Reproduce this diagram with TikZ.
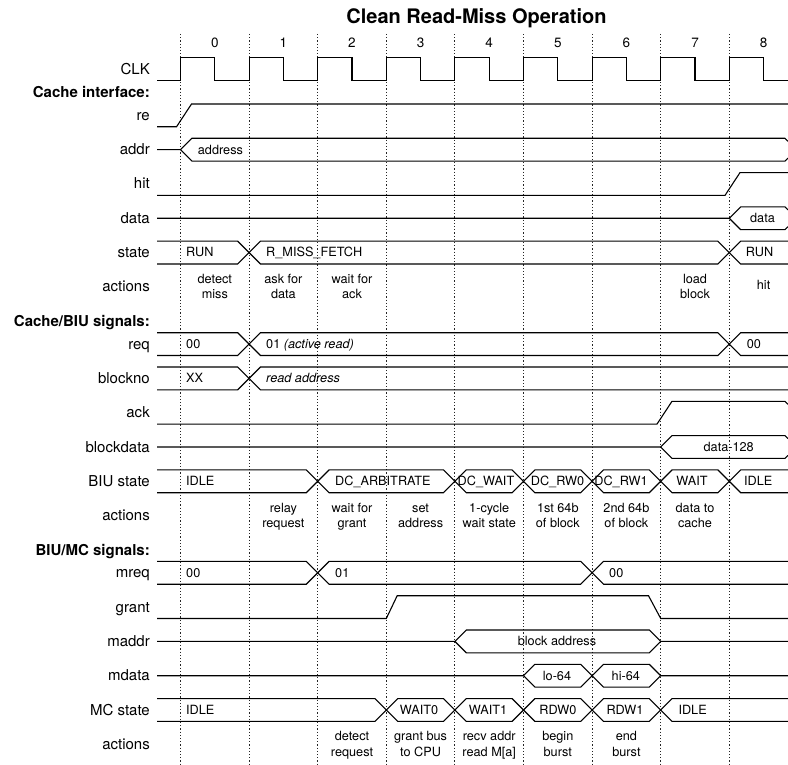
\documentclass[tikz,border=0pt]{standalone}
\usepackage{fontspec}
\setmainfont{TeX Gyre Heros}
\newcommand\twol[2]{\begin{tabular}[t]{@{}c@{}}#1\\#2\end{tabular}}
\begin{document}
\begin{tikzpicture}[x=1pt,y=-1pt,
  sig/.style={line width=1.1pt, line join=miter, line cap=butt},
  gridline/.style={line width=0.9pt, dash pattern=on 1.2pt off 2pt, black!85},
  lbl/.style={anchor=base east, font=\fontsize{15}{18}\selectfont, inner sep=0pt},
  hdr/.style={anchor=base east, font=\fontsize{15}{18}\selectfont\bfseries, inner sep=0pt},
  val/.style={anchor=base west, font=\fontsize{12.7}{15.5}\selectfont, inner sep=0pt},
  cval/.style={anchor=base, font=\fontsize{12.7}{15.5}\selectfont, inner sep=0pt},
  act/.style={anchor=base, font=\fontsize{12.7}{15.5}\selectfont, inner sep=0pt},
  num/.style={anchor=base, font=\fontsize{13.5}{16}\selectfont, inner sep=0pt},
]
\useasboundingbox (0,0) rectangle (788,765);

% title and cycle numbers
\node[anchor=base, font=\fontsize{20}{24}\selectfont\bfseries, inner sep=0pt] (title) at (476.5,23.3) {Clean Read-Miss Operation};
\foreach \k in {0,...,8} {
  \draw[gridline] (180.5+68.6*\k,34) -- (180.5+68.6*\k,765);
  \node[num] (n\k) at (214.8+68.6*\k,47.7) {\k};
}

% row labels
\node[lbl] (lclk) at (150,74.2) {CLK};
\node[hdr] (h1) at (150,97.3) {Cache interface:};
\node[lbl] (lre) at (150,120.4) {re};
\node[lbl] (laddr) at (150,154.7) {addr};
\node[lbl] (lhit) at (150,189.0) {hit};
\node[lbl] (ldata) at (150,223.3) {data};
\node[lbl] (lstate) at (150,257.6) {state};
\node[lbl] (lact1) at (150,291.9) {actions};
\node[hdr] (h2) at (150,326.2) {Cache/BIU signals:};
\node[lbl] (lreq) at (150,349.1) {req};
\node[lbl] (lblk) at (150,383.4) {blockno};
\node[lbl] (lack) at (150,417.7) {ack};
\node[lbl] (lbd) at (150,452.0) {blockdata};
\node[lbl] (lbiu) at (150,486.3) {BIU state};
\node[lbl] (lact2) at (150,520.6) {actions};
\node[hdr] (h3) at (150,555.2) {BIU/MC signals:};
\node[lbl] (lmreq) at (150,577.8) {mreq};
\node[lbl] (lgrant) at (150,612.1) {grant};
\node[lbl] (lmaddr) at (150,646.4) {maddr};
\node[lbl] (lmdata) at (150,680.7) {mdata};
\node[lbl] (lmc) at (150,715.0) {MC state};
\node[lbl] (lact3) at (150,749.3) {actions};

% CLK
\draw[sig] (157,80.6) foreach \k in {0,...,8} { -- (180.5+68.6*\k,80.6) -- (180.5+68.6*\k,57.8) -- (214.8+68.6*\k,57.8) -- (214.8+68.6*\k,80.6) } -- (788,80.6);

% re
\draw[sig] (157,126.8) -- (176.5,126.8) -- (191.5,104.0) -- (788,104.0);

% addr
\draw[sig] (157,149.7) -- (180.5,149.7) -- (191.9,138.3) -- (785,138.3) -- (788,141.3);
\draw[sig] (180.5,149.7) -- (191.9,161.1) -- (785,161.1) -- (788,158.1);
\node[val] (vaddr) at (197.7,154.1) {address};

% hit
\draw[sig] (157,195.4) -- (725,195.4) -- (740,172.6) -- (788,172.6);

% data
\draw[sig] (157,218.3) -- (729.3,218.3) -- (740.7,206.9) -- (785,206.9) -- (788,209.9);
\draw[sig] (729.3,218.3) -- (740.7,229.7) -- (785,229.7) -- (788,226.7);
\node[cval] (vdata) at (762.5,222.7) {data};

% state
\draw[sig] (157,241.2) -- (237.7,241.2) -- (260.5,264.0) -- (717.9,264.0) -- (740.7,241.2) -- (788,241.2);
\draw[sig] (157,264.0) -- (237.7,264.0) -- (260.5,241.2) -- (717.9,241.2) -- (740.7,264.0) -- (788,264.0);
\node[val] (vs0) at (186,257.0) {RUN};
\node[val] (vs1) at (266,257.0) {R\_MISS\_FETCH};
\node[val] (vs2) at (745.7,257.0) {RUN};

% cache actions
\node[act] (a10) at (214.8,283.4) {\twol{detect}{miss}};
\node[act] (a11) at (283.4,283.4) {\twol{ask for}{data}};
\node[act] (a12) at (352.0,283.4) {\twol{wait for}{ack}};
\node[act] (a17) at (695.0,283.4) {\twol{load}{block}};
\node[act] (a18) at (763.6,290.0) {hit};

% req
\draw[sig] (157,332.7) -- (237.7,332.7) -- (260.5,355.5) -- (717.9,355.5) -- (740.7,332.7) -- (788,332.7);
\draw[sig] (157,355.5) -- (237.7,355.5) -- (260.5,332.7) -- (717.9,332.7) -- (740.7,355.5) -- (788,355.5);
\node[val] (vr0) at (186,348.5) {00};
\node[val] (vr1) at (266,348.5) {01 \textit{(active read)}};
\node[val] (vr2) at (746.7,348.5) {00};

% blockno
\draw[sig] (157,367.0) -- (237.7,367.0) -- (260.5,389.8) -- (788,389.8);
\draw[sig] (157,389.8) -- (237.7,389.8) -- (260.5,367.0) -- (788,367.0);
\node[val] (vb0) at (186,382.8) {XX};
\node[val] (vb1) at (266,382.8) {\textit{read address}};

% ack
\draw[sig] (157,424.1) -- (657,424.1) -- (672,401.3) -- (785,401.3) -- (788,404.3);

% blockdata
\draw[sig] (157,447.0) -- (660.7,447.0) -- (672.1,435.6) -- (785,435.6) -- (788,438.6);
\draw[sig] (660.7,447.0) -- (672.1,458.4) -- (785,458.4) -- (788,455.4);
\node[cval] (vbd) at (728.7,451.4) {data-128};

% BIU state  (crossings at x2,x4,x5,x6,x7,x8)
\draw[sig] (157,469.9) -- (306.3,469.9) -- (329.1,492.7) -- (443.5,492.7) -- (466.3,469.9) -- (512.1,469.9) -- (534.9,492.7) -- (580.7,492.7) -- (603.5,469.9) -- (649.3,469.9) -- (672.1,492.7) -- (717.9,492.7) -- (740.7,469.9) -- (788,469.9);
\draw[sig] (157,492.7) -- (306.3,492.7) -- (329.1,469.9) -- (443.5,469.9) -- (466.3,492.7) -- (512.1,492.7) -- (534.9,469.9) -- (580.7,469.9) -- (603.5,492.7) -- (649.3,492.7) -- (672.1,469.9) -- (717.9,469.9) -- (740.7,492.7) -- (788,492.7);
\node[val] (vi0) at (186,485.7) {IDLE};
\node[val] (vi1) at (335,485.7) {DC\_ARBITRATE};
\node[cval] (vi2) at (486,485.7) {DC\_WAIT};
\node[cval] (vi3) at (557.5,485.7) {DC\_RW0};
\node[cval] (vi4) at (621,485.7) {DC\_RW1};
\node[cval] (vi5) at (692,485.7) {WAIT};
\node[val] (vi6) at (744,485.7) {IDLE};

% BIU actions
\node[act] (a21) at (283.4,512.1) {\twol{relay}{request}};
\node[act] (a22) at (352.0,512.1) {\twol{wait for}{grant}};
\node[act] (a23) at (420.6,512.1) {\twol{set}{address}};
\node[act] (a24) at (489.2,512.1) {\twol{1-cycle}{wait state}};
\node[act] (a25) at (557.8,512.1) {\twol{1st 64b}{of block}};
\node[act] (a26) at (626.4,512.1) {\twol{2nd 64b}{of block}};
\node[act] (a27) at (695.0,512.1) {\twol{data to}{cache}};

% mreq (crossings x2, x6)
\draw[sig] (157,561.4) -- (306.3,561.4) -- (329.1,584.2) -- (580.7,584.2) -- (603.5,561.4) -- (788,561.4);
\draw[sig] (157,584.2) -- (306.3,584.2) -- (329.1,561.4) -- (580.7,561.4) -- (603.5,584.2) -- (788,584.2);
\node[val] (vm0) at (186,577.2) {00};
\node[val] (vm1) at (335,577.2) {01};
\node[val] (vm2) at (609,577.2) {00};

% grant
\draw[sig] (157,618.5) -- (386.3,618.5) -- (397.2,595.7) -- (648.5,595.7) -- (660.7,618.5) -- (788,618.5);

% maddr
\draw[sig] (157,641.4) -- (454.9,641.4) -- (466.3,630.0) -- (649.3,630.0) -- (660.7,641.4) -- (788,641.4);
\draw[sig] (454.9,641.4) -- (466.3,652.8) -- (649.3,652.8) -- (660.7,641.4);
\node[cval] (vma) at (557,645.8) {block address};

% mdata
\draw[sig] (157,675.7) -- (523.5,675.7) -- (534.9,664.3) -- (580.7,664.3) -- (603.5,687.1) -- (649.3,687.1) -- (660.7,675.7) -- (788,675.7);
\draw[sig] (523.5,675.7) -- (534.9,687.1) -- (580.7,687.1) -- (603.5,664.3) -- (649.3,664.3) -- (660.7,675.7);
\node[cval] (vmd0) at (557,680.1) {lo-64};
\node[cval] (vmd1) at (625.8,680.1) {hi-64};

% MC state (crossings x3..x7)
\draw[sig] (157,698.6) -- (374.9,698.6) -- (397.7,721.4) -- (443.5,721.4) -- (466.3,698.6) -- (512.1,698.6) -- (534.9,721.4) -- (580.7,721.4) -- (603.5,698.6) -- (649.3,698.6) -- (672.1,721.4) -- (788,721.4);
\draw[sig] (157,721.4) -- (374.9,721.4) -- (397.7,698.6) -- (443.5,698.6) -- (466.3,721.4) -- (512.1,721.4) -- (534.9,698.6) -- (580.7,698.6) -- (603.5,721.4) -- (649.3,721.4) -- (672.1,698.6) -- (788,698.6);
\node[val] (vc0) at (186,714.4) {IDLE};
\node[cval] (vc1) at (419,714.4) {WAIT0};
\node[cval] (vc2) at (488,714.4) {WAIT1};
\node[cval] (vc3) at (558,714.4) {RDW0};
\node[cval] (vc4) at (625,714.4) {RDW1};
\node[val] (vc5) at (678.3,714.4) {IDLE};

% MC actions
\node[act] (a32) at (352.0,740.8) {\twol{detect}{request}};
\node[act] (a33) at (420.6,740.8) {\twol{grant bus}{to CPU}};
\node[act] (a34) at (489.2,740.8) {\twol{recv addr}{read M[a]}};
\node[act] (a35) at (557.8,740.8) {\twol{begin}{burst}};
\node[act] (a36) at (626.4,740.8) {\twol{end}{burst}};
\end{tikzpicture}
\end{document}
